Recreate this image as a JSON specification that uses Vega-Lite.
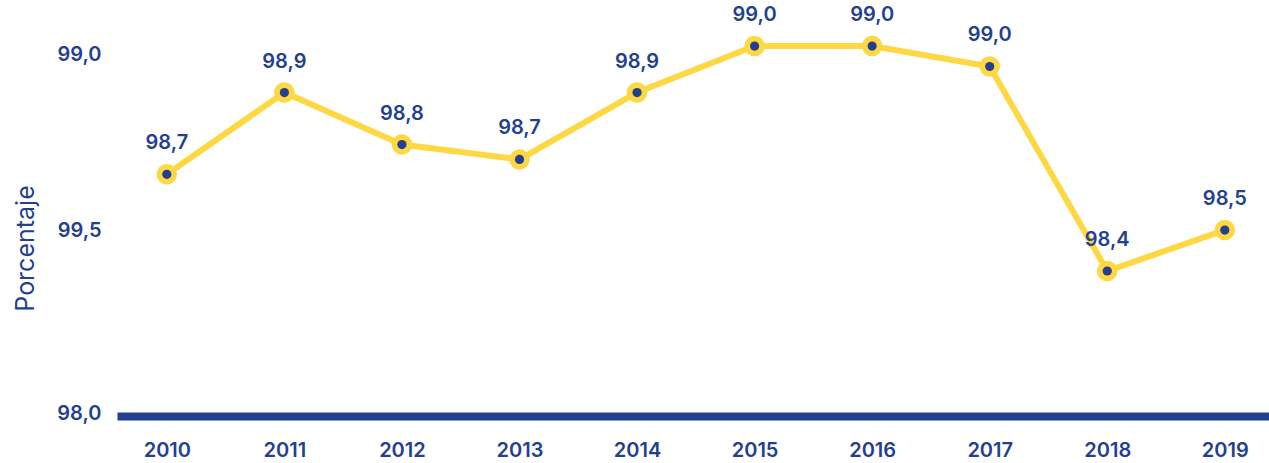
{
  "$schema": "https://vega.github.io/schema/vega-lite/v6.json",
  "autosize": {"type": "none"},
  "width": 1152,
  "height": 409,
  "padding": {"left": 117, "top": 7, "right": 0, "bottom": 47},
  "background": "white",
  "config": {
    "locale": {"number": {"decimal": ",", "thousands": ".", "grouping": [3], "currency": ["", " €"]}},
    "view": {"stroke": null},
    "font": "Inter"
  },
  "data": {
    "values": [
      {"year": "2010", "value": 98.65, "label": "98,7"},
      {"year": "2011", "value": 98.87, "label": "98,9"},
      {"year": "2012", "value": 98.73, "label": "98,8"},
      {"year": "2013", "value": 98.69, "label": "98,7"},
      {"year": "2014", "value": 98.87, "label": "98,9"},
      {"year": "2015", "value": 98.995, "label": "99,0"},
      {"year": "2016", "value": 98.995, "label": "99,0"},
      {"year": "2017", "value": 98.94, "label": "99,0"},
      {"year": "2018", "value": 98.39, "label": "98,4"},
      {"year": "2019", "value": 98.5, "label": "98,5"}
    ]
  },
  "encoding": {
    "x": {
      "field": "year", "type": "ordinal",
      "scale": {"type": "point", "padding": 0.4, "align": 0.53},
      "axis": {
        "title": null, "labelAngle": 0, "ticks": false,
        "domainColor": "#233F8F", "domainWidth": 8, "domainCap": "butt",
        "labelColor": "#233F8F", "labelFont": "Inter", "labelFontSize": 20, "labelFontWeight": 600,
        "labelPadding": 24
      }
    },
    "y": {
      "field": "value", "type": "quantitative",
      "scale": {"domain": [98, 99.1], "nice": false, "zero": false},
      "axis": {
        "values": [98.008, 98.5, 98.973],
        "labelExpr": "datum.value < 98.2 ? '98,0' : (datum.value < 98.7 ? '99,5' : '99,0')",
        "grid": false, "domain": false, "ticks": false,
        "labelColor": "#233F8F", "labelFont": "Inter", "labelFontSize": 20, "labelFontWeight": 600,
        "labelPadding": 16,
        "title": "Porcentaje", "titleColor": "#233F8F", "titleFont": "Inter", "titleFontSize": 25,
        "titleFontWeight": 400, "titlePadding": 18, "titleY": 241
      }
    }
  },
  "layer": [
    {"mark": {"type": "line", "color": "#FDD843", "strokeWidth": 6}},
    {"mark": {"type": "point", "shape": "circle", "filled": true, "color": "#FDD843", "size": 420, "opacity": 1}},
    {"mark": {"type": "point", "shape": "circle", "filled": true, "color": "#233F8F", "size": 85, "opacity": 1}},
    {
      "mark": {"type": "text", "dy": -31, "color": "#233F8F", "font": "Inter", "fontSize": 20, "fontWeight": 600},
      "encoding": {"text": {"field": "label", "type": "nominal"}}
    }
  ]
}
